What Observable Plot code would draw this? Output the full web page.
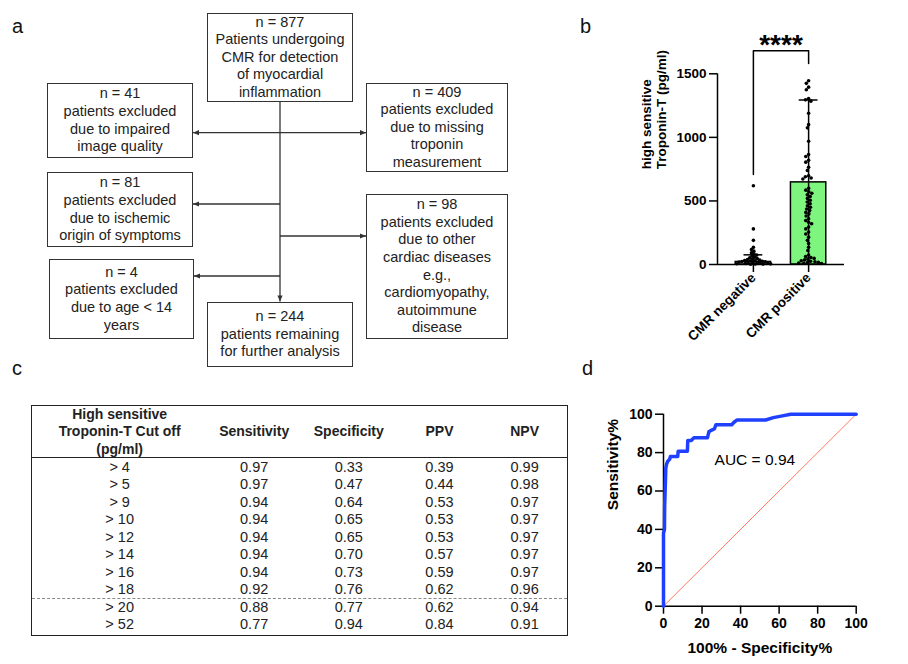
<!DOCTYPE html>
<html><head><meta charset="utf-8">
<script src="https://cdn.jsdelivr.net/npm/d3@7"></script>
<script src="https://cdn.jsdelivr.net/npm/@observablehq/plot@0.6"></script>
<style>
body{margin:0;background:#fff;font-family:"Liberation Sans",Arial,sans-serif;}
#root{position:relative;width:908px;height:664px;overflow:hidden;background:#fff;}
.lbl{position:absolute;font-size:20px;line-height:20px;color:#111;}
.box{position:absolute;box-sizing:border-box;border:1.3px solid #333;display:flex;flex-direction:column;justify-content:center;align-items:center;font-size:14.5px;line-height:17.6px;color:#222;text-align:center;}
.box div{white-space:nowrap}
.panel{position:absolute;}
#tbl{position:absolute;left:30.7px;top:405px;width:537.6px;height:230.5px;box-sizing:border-box;border:1.5px solid #222;color:#222;}
#tbl .hdr{display:flex;height:51px;border-bottom:1.5px solid #222;font-weight:bold;font-size:14px;line-height:17.4px;}
#tbl .hdr div{display:flex;align-items:center;justify-content:center;text-align:center;}
#tbl .hdr div.first{align-items:flex-start;}
#tbl .body{padding-top:0.5px;}
#tbl .row{display:flex;height:17.5px;font-size:14.5px;line-height:17.5px;}
#tbl .row div{text-align:center;}
#dash{position:absolute;left:0;right:0;top:192.2px;border-top:1.3px dashed #888;}
</style></head><body><div id="root"></div>
<script>
// ---------- Panel a: flowchart ----------
const flowBoxes = [
  {x:207, y:13, w:146, h:89, lines:["n = 877","Patients undergoing","CMR for detection","of myocardial","inflammation"]},
  {x:47, y:83, w:146, h:75, lines:["n = 41","patients excluded","due to impaired","image quality"]},
  {x:47, y:172, w:146, h:75, lines:["n = 81","patients excluded","due to ischemic","origin of symptoms"]},
  {x:49, y:259, w:145, h:80, lines:["n = 4","patients excluded","due to age < 14","years"]},
  {x:207, y:302, w:146, h:65, lines:["n = 244","patients remaining","for further analysis"]},
  {x:366, y:83, w:142, h:89, lines:["n = 409","patients excluded","due to missing","troponin","measurement"]},
  {x:366, y:194, w:142, h:145, lines:["n = 98","patients excluded","due to other","cardiac diseases","e.g.,","cardiomyopathy,","autoimmune","disease"]}
];
// connectors: [x1,y1,x2,y2, arrowAtStart, arrowAtEnd]
const flowLinks = [
  [280,102,280,301.5,false,true],
  [193,132.7,366,132.7,true,true],
  [280,204,193,204,false,true],
  [280,236,366,236,false,true],
  [280,276,194,276,false,true]
];

// ---------- Panel b: troponin by CMR result ----------
const groups = ["CMR negative","CMR positive"];
const groupMean = [20, 646];
const groupSD = [56, 648];
const negValues = [620,280,190,135,118,105,92,82,74,66,58,52,47,42,38,35,32,30,28,26,24,22,20,18,16,14,12,10,8,6,5,4,3,2];
const posValues = [1445,1425,1395,1375,1305,1295,1285,1190,1100,1075,970,865,850,820,805,765,740,698,690,680,672,600,585,572,560,548,535,520,505,492,478,462,450,436,424,410,398,382,360,346,332,320,295,280,255,240,215,190,165,136,110,75,62,55,48,42,36,30,26,22,18,15,12,10,8];
const yTicksB = [0,500,1000,1500];
const yLabelB = "high sensitive\nTroponin-T (pg/ml)";
const bracketY = [707,1681,1681,1581];   // left leg bottom, bar, bar, right leg bottom
const bracketX = [0,0,1,1];
const sigLabel = "****";
const sigLabelY = 1725;

// ---------- Panel c: table ----------
const tableHeaders = ["High sensitive\nTroponin-T Cut off\n(pg/ml)","Sensitivity","Specificity","PPV","NPV"];
const cutoffs = ["> 4","> 5","> 9","> 10","> 12","> 14","> 16","> 18","> 20","> 52"];
const sensitivity = [0.97,0.97,0.94,0.94,0.94,0.94,0.94,0.92,0.88,0.77];
const specificity = [0.33,0.47,0.64,0.65,0.65,0.70,0.73,0.76,0.77,0.94];
const ppv = [0.39,0.44,0.53,0.53,0.53,0.57,0.59,0.62,0.62,0.84];
const npv = [0.99,0.98,0.97,0.97,0.97,0.97,0.97,0.96,0.94,0.91];

// ---------- Panel d: ROC ----------
const rocFPR = [0,0,0.5,0.6,1,1.2,1.6,2.2,3.2,3.6,7.4,7.6,12.4,12.6,14.4,15.8,22.8,23.6,25,26.4,27.2,35.4,36.6,38.2,53,57,61,66,100];
const rocTPR = [0,38,40,52,65,72,74,75.5,76.5,78,78,80.7,80.7,86.3,86.3,87.7,87.7,91,91.7,92.3,94.5,94.5,95.8,97,97,98.2,99,100,100];
const refLine = [0,100];
const ticksD = [0,20,40,60,80,100];
const aucLabel = "AUC = 0.94";
const aucPos = [26.5, 76];

const FONT = "Liberation Sans, Arial, sans-serif";
const root = document.getElementById("root");

// panel letters
[["a",12,16],["b",580,16],["c",12,358],["d",582,358]].forEach(([t,x,y])=>{
  const d=document.createElement("div"); d.className="lbl"; d.textContent=t;
  d.style.left=x+"px"; d.style.top=y+"px"; root.appendChild(d);
});

// flowchart boxes
flowBoxes.forEach(b=>{
  const d=document.createElement("div"); d.className="box";
  Object.assign(d.style,{left:b.x+"px",top:b.y+"px",width:b.w+"px",height:b.h+"px"});
  b.lines.forEach(l=>{const s=document.createElement("div"); s.textContent=l; d.appendChild(s);});
  root.appendChild(d);
});
// flowchart connectors
const ns="http://www.w3.org/2000/svg";
const fsvg=document.createElementNS(ns,"svg");
fsvg.setAttribute("width",560); fsvg.setAttribute("height",380);
fsvg.style.position="absolute"; fsvg.style.left="0"; fsvg.style.top="0";
function head(x,y,dx,dy){
  const p=document.createElementNS(ns,"path");
  const L=6,W=2.6, px=-dy, py=dx;
  p.setAttribute("d",`M${x},${y}L${x-dx*L+px*W},${y-dy*L+py*W}L${x-dx*L-px*W},${y-dy*L-py*W}Z`);
  p.setAttribute("fill","#333"); fsvg.appendChild(p);
}
flowLinks.forEach(([x1,y1,x2,y2,a1,a2])=>{
  const l=document.createElementNS(ns,"line");
  l.setAttribute("x1",x1);l.setAttribute("y1",y1);l.setAttribute("x2",x2);l.setAttribute("y2",y2);
  l.setAttribute("stroke","#333");l.setAttribute("stroke-width",1.3);fsvg.appendChild(l);
  const len=Math.hypot(x2-x1,y2-y1), ux=(x2-x1)/len, uy=(y2-y1)/len;
  if(a2) head(x2,y2,ux,uy);
  if(a1) head(x1,y1,-ux,-uy);
});
root.appendChild(fsvg);

// ---------- Panel b chart ----------
const bW=328, bH=340, bML=137, bMR=64, bMT=73.3, bMB=76;
const xB={domain:[-0.65,1.65]};
const xScaleB=Plot.scale({x:{...xB, range:[bML, bW-bMR]}});
const midB=(bML+bW-bMR)/2;
const summary=groups.map((g,i)=>({i, g, mean:groupMean[i], lo:Math.max(0,groupMean[i]-groupSD[i]), hi:groupMean[i]+groupSD[i]}));
const bracket=bracketX.map((x,i)=>({x, y:bracketY[i]}));
const chartB=Plot.plot({
  width:bW, height:bH, marginLeft:bML, marginRight:bMR, marginTop:bMT, marginBottom:bMB,
  x:{...xB, axis:null}, y:{domain:[0,1500], axis:null},
  color:{domain:groups, range:["#ffffff","#7ef57e"]},
  style:{fontFamily:FONT, fontSize:"13.5px", color:"black", background:"none", overflow:"visible"},
  marks:[
    Plot.rectY(summary,{x1:d=>d.i-0.32, x2:d=>d.i+0.32, y1:0, y2:"mean", fill:"g", stroke:"black", strokeWidth:1.5}),
    Plot.ruleX(summary,{x:"i", y1:"lo", y2:"hi", stroke:"black", strokeWidth:1.5}),
    Plot.ruleY(summary,{y:"hi", x1:d=>d.i-0.17, x2:d=>d.i+0.17, stroke:"black", strokeWidth:1.5}),
    Plot.dot(negValues, Plot.dodgeX({anchor:"middle", padding:-0.7}, {y:d=>d, r:1.8, fill:"black", dx:xScaleB.apply(0)-midB})),
    Plot.dot(posValues, Plot.dodgeX({anchor:"middle", padding:-0.2}, {y:d=>d, r:1.8, fill:"black", dx:xScaleB.apply(1)-midB})),
    Plot.line(bracket,{x:"x", y:"y", stroke:"black", strokeWidth:1.5}),
    Plot.text([sigLabel],{x:0.5, y:sigLabelY, text:d=>d, fontSize:28, fontWeight:"bold", lineAnchor:"middle"}),
    Plot.ruleX([xB.domain[0]],{y1:0, y2:1500, stroke:"black", strokeWidth:1.5}),
    Plot.ruleY([0],{x1:xB.domain[0], x2:xB.domain[1], stroke:"black", strokeWidth:1.5}),
    Plot.axisY({ticks:yTicksB, tickFormat:d=>String(d), tickSize:8, tickPadding:3, fontSize:13.5, fontWeight:"bold", label:null, strokeWidth:1.5}),
    Plot.axisX({ticks:[0,1], tickFormat:i=>groups[i], tickRotate:-45, tickSize:8, tickPadding:3, fontSize:13.5, fontWeight:"bold", label:null, strokeWidth:1.5}),
    Plot.text([yLabelB],{frameAnchor:"left", text:d=>d, dx:-63.5, rotate:-90, fontSize:13.5, fontWeight:"bold", lineHeight:1.1, lineAnchor:"middle"})
  ]
});
const pb=document.createElement("div"); pb.className="panel"; pb.style.left="580px"; pb.style.top="0px";
pb.appendChild(chartB); root.appendChild(pb);

// ---------- Panel c table ----------
const colW=[176.6,93.4,96.6,85.4,85.6];
const tbl=document.createElement("div"); tbl.id="tbl";
const hdr=document.createElement("div"); hdr.className="hdr";
tableHeaders.forEach((h,j)=>{
  const c=document.createElement("div"); c.style.width=colW[j]+"px";
  if(j===0) c.className="first";
  c.innerHTML=h.split("\n").join("<br>"); hdr.appendChild(c);
});
tbl.appendChild(hdr);
const body=document.createElement("div"); body.className="body";
cutoffs.forEach((cut,i)=>{
  const r=document.createElement("div"); r.className="row";
  [cut, sensitivity[i].toFixed(2), specificity[i].toFixed(2), ppv[i].toFixed(2), npv[i].toFixed(2)].forEach((v,j)=>{
    const c=document.createElement("div"); c.style.width=colW[j]+"px"; c.textContent=v; r.appendChild(c);
  });
  body.appendChild(r);
});
tbl.appendChild(body);
const dash=document.createElement("div"); dash.id="dash"; tbl.appendChild(dash);
root.appendChild(tbl);

// ---------- Panel d chart ----------
const chartD=Plot.plot({
  width:328, height:304, marginLeft:83, marginRight:52.3, marginTop:53.7, marginBottom:58.3,
  x:{domain:[0,100], axis:null}, y:{domain:[0,100], axis:null},
  style:{fontFamily:FONT, fontSize:"13.5px", color:"black", background:"none", overflow:"visible"},
  marks:[
    Plot.line(refLine.map(v=>({v})),{x:"v", y:"v", stroke:"#ff7a60", strokeWidth:1}),
    Plot.ruleX([0],{y1:0, y2:100, stroke:"black", strokeWidth:1.5}),
    Plot.ruleY([0],{x1:0, x2:100, stroke:"black", strokeWidth:1.5}),
    Plot.axisX({ticks:ticksD, tickSize:8, tickPadding:4, fontSize:14, fontWeight:"bold", label:null, strokeWidth:1.5}),
    Plot.axisY({ticks:ticksD, tickSize:8, tickPadding:3, fontSize:14, fontWeight:"bold", label:null, strokeWidth:1.5}),
    Plot.line(rocFPR,{x:rocFPR, y:rocTPR, stroke:"#2040ff", strokeWidth:3.5, strokeLinejoin:"round"}),
    Plot.text([aucLabel],{x:aucPos[0], y:aucPos[1], text:d=>d, textAnchor:"start", fontSize:15.5, lineAnchor:"middle"}),
    Plot.text(["Sensitivity%"],{frameAnchor:"left", text:d=>d, dx:-50, rotate:-90, fontSize:15.5, fontWeight:"bold", lineAnchor:"middle"}),
    Plot.text(["100% - Specificity%"],{frameAnchor:"bottom", text:d=>d, dy:41.6, fontSize:15.5, fontWeight:"bold", lineAnchor:"middle"})
  ]
});
const pd=document.createElement("div"); pd.className="panel"; pd.style.left="580px"; pd.style.top="360px";
pd.appendChild(chartD); root.appendChild(pd);
</script></body></html>
